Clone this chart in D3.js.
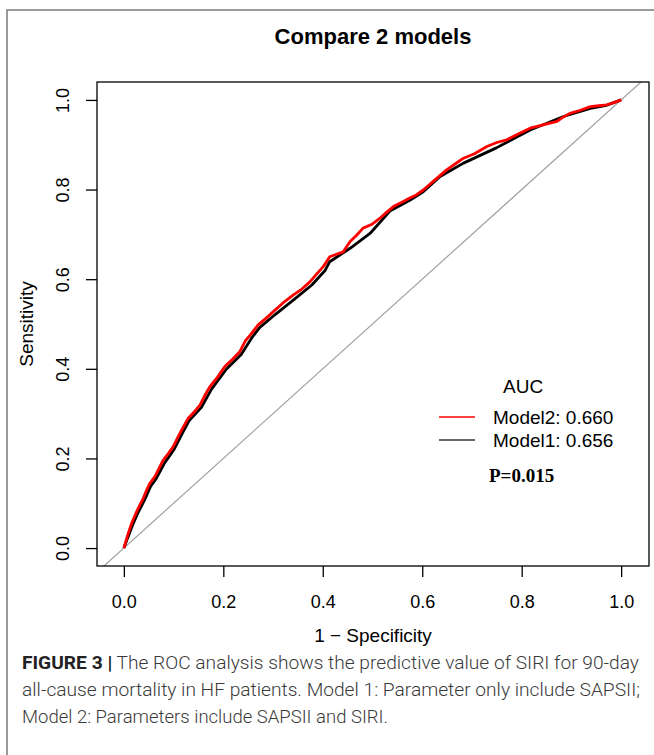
<!DOCTYPE html>
<html>
<head>
<meta charset="utf-8">
<script src="https://cdn.jsdelivr.net/npm/d3@7"></script>
<style>
  html, body { margin: 0; padding: 0; background: #fff; }
  svg { display: block; }
</style>
</head>
<body>
<svg id="chart" width="654" height="755"></svg>
<script>
// ---- data ----
const titleText = "Compare 2 models";
const xLabel = "1 \u2212 Specificity";
const yLabel = "Sensitivity";
const xTicks = [0, 0.2, 0.4, 0.6, 0.8, 1.0];
const yTicks = [0, 0.2, 0.4, 0.6, 0.8, 1.0];
const xLimits = [-0.054, 1.056];
const yLimits = [-0.04, 1.04];
const seriesNames = ["Model2: 0.660", "Model1: 0.656"];
const seriesColors = ["#ff0000", "#000000"];
const pValueText = "P=0.015";
const legendTitle = "AUC";

// Model 2 ROC (1-specificity, sensitivity)
const model2FPR = [0, 0.008, 0.0155, 0.0255, 0.033, 0.039, 0.046, 0.052, 0.062, 0.07, 0.079, 0.09, 0.099, 0.108, 0.116, 0.129, 0.14, 0.153, 0.163, 0.173, 0.188, 0.203, 0.218, 0.233, 0.244, 0.254, 0.270, 0.285, 0.300, 0.32, 0.341, 0.358, 0.374, 0.388, 0.401, 0.414, 0.441, 0.455, 0.468, 0.481, 0.498, 0.515, 0.528, 0.542, 0.558, 0.575, 0.588, 0.602, 0.625, 0.649, 0.666, 0.683, 0.705, 0.730, 0.750, 0.770, 0.795, 0.817, 0.845, 0.871, 0.884, 0.897, 0.918, 0.938, 0.955, 0.971, 0.985, 1.0];
const model2TPR = [0, 0.03, 0.055, 0.081, 0.098, 0.111, 0.13, 0.144, 0.159, 0.176, 0.196, 0.212, 0.226, 0.246, 0.263, 0.289, 0.302, 0.319, 0.341, 0.360, 0.381, 0.405, 0.421, 0.438, 0.462, 0.475, 0.498, 0.512, 0.527, 0.547, 0.565, 0.578, 0.594, 0.612, 0.628, 0.650, 0.661, 0.684, 0.698, 0.714, 0.722, 0.736, 0.749, 0.762, 0.771, 0.781, 0.788, 0.799, 0.821, 0.844, 0.857, 0.870, 0.880, 0.896, 0.905, 0.911, 0.925, 0.937, 0.945, 0.952, 0.962, 0.970, 0.977, 0.985, 0.987, 0.989, 0.994, 1.0];

// Model 1 ROC (1-specificity, sensitivity)
const model1FPR = [0, 0.017, 0.028, 0.041, 0.054, 0.065, 0.082, 0.101, 0.118, 0.131, 0.156, 0.176, 0.206, 0.236, 0.257, 0.273, 0.303, 0.345, 0.378, 0.405, 0.414, 0.455, 0.495, 0.535, 0.575, 0.602, 0.636, 0.683, 0.749, 0.817, 0.884, 0.938, 0.971, 1.0];
const model1TPR = [0, 0.05, 0.078, 0.106, 0.138, 0.155, 0.19, 0.22, 0.257, 0.284, 0.314, 0.354, 0.399, 0.432, 0.469, 0.492, 0.52, 0.557, 0.587, 0.62, 0.639, 0.669, 0.702, 0.752, 0.776, 0.795, 0.829, 0.859, 0.893, 0.933, 0.963, 0.981, 0.988, 1.0];

const captionBold = "FIGURE 3 |";
const captionLines = [
  " The ROC analysis shows the predictive value of SIRI for 90-day",
  "all-cause mortality in HF patients. Model 1: Parameter only include SAPSII;",
  "Model 2: Parameters include SAPSII and SIRI."
];

// ---- layout ----
const svg = d3.select("#chart");
const box = { left: 97, right: 649, top: 82, bottom: 566 };
const x = d3.scaleLinear().domain(xLimits).range([box.left, box.right]);
const y = d3.scaleLinear().domain(yLimits).range([box.bottom, box.top]);
const sans = "'Liberation Sans', Arial, Helvetica, sans-serif";

// outer figure frame
svg.append("path")
  .attr("d", `M7,755 L7,10 L654,10`)
  .attr("fill", "none").attr("stroke", "#7a7a7a").attr("stroke-width", 1.5);

// title
svg.append("text")
  .attr("x", (box.left + box.right) / 2).attr("y", 44)
  .attr("text-anchor", "middle")
  .attr("font-family", sans).attr("font-weight", "bold").attr("font-size", 22)
  .text(titleText);

// clip
svg.append("clipPath").attr("id", "plotclip")
  .append("rect").attr("x", box.left).attr("y", box.top)
  .attr("width", box.right - box.left).attr("height", box.bottom - box.top);

const plot = svg.append("g").attr("clip-path", "url(#plotclip)");

// diagonal reference
plot.append("line")
  .attr("x1", x(-0.1)).attr("y1", y(-0.1))
  .attr("x2", x(1.1)).attr("y2", y(1.1))
  .attr("stroke", "#a0a0a0").attr("stroke-width", 1.2);

const line = d3.line().x(d => x(d[0])).y(d => y(d[1]));
const m1 = model1FPR.map((v, i) => [v, model1TPR[i]]);
const m2 = model2FPR.map((v, i) => [v, model2TPR[i]]);

plot.append("path").datum(m1).attr("d", line)
  .attr("fill", "none").attr("stroke", seriesColors[1]).attr("stroke-width", 2.8)
  .attr("stroke-linejoin", "round");
plot.append("path").datum(m2).attr("d", line)
  .attr("fill", "none").attr("stroke", seriesColors[0]).attr("stroke-width", 2.8)
  .attr("stroke-linejoin", "round");

// box
svg.append("rect")
  .attr("x", box.left).attr("y", box.top)
  .attr("width", box.right - box.left).attr("height", box.bottom - box.top)
  .attr("fill", "none").attr("stroke", "#000").attr("stroke-width", 1.3);

// axes
const xAxis = d3.axisBottom(x).tickValues(xTicks).tickFormat(d3.format(".1f"))
  .tickSize(11).tickPadding(18);
const gx = svg.append("g").attr("transform", `translate(0,${box.bottom})`).call(xAxis);
gx.select(".domain").remove();
gx.selectAll("line").attr("stroke-width", 1.3);
gx.selectAll("text").attr("font-family", sans).attr("font-size", 18).attr("fill", "#000");

const yAxis = d3.axisLeft(y).tickValues(yTicks).tickFormat(d3.format(".1f"))
  .tickSize(11).tickPadding(0);
const gy = svg.append("g").attr("transform", `translate(${box.left},0)`).call(yAxis);
gy.select(".domain").remove();
gy.selectAll("line").attr("stroke-width", 1.3);
gy.selectAll("text")
  .attr("font-family", sans).attr("font-size", 18).attr("fill", "#000")
  .attr("x", null).attr("dy", null)
  .attr("text-anchor", "middle")
  .attr("transform", "translate(-34,0) rotate(-90)")
  .attr("y", 0).attr("dy", "0.35em");

// axis labels
svg.append("text")
  .attr("x", (box.left + box.right) / 2).attr("y", 642)
  .attr("text-anchor", "middle")
  .attr("font-family", sans).attr("font-size", 19)
  .text(xLabel);
svg.append("text")
  .attr("transform", `translate(33,${(box.top + box.bottom) / 2}) rotate(-90)`)
  .attr("text-anchor", "middle")
  .attr("font-family", sans).attr("font-size", 19)
  .text(yLabel);

// legend
svg.append("text").attr("x", 503).attr("y", 393)
  .attr("font-family", sans).attr("font-size", 19).text(legendTitle);
const legY = [417, 440];
seriesNames.forEach((name, i) => {
  svg.append("line")
    .attr("x1", 439).attr("x2", 475).attr("y1", legY[i]).attr("y2", legY[i])
    .attr("stroke", i === 0 ? seriesColors[0] : "#333").attr("stroke-width", 1.4);
  svg.append("text").attr("x", 493).attr("y", legY[i]).attr("dy", "0.36em")
    .attr("font-family", sans).attr("font-size", 19).text(name);
});
svg.append("text").attr("x", 489).attr("y", 482)
  .attr("font-family", "'Liberation Serif', 'Times New Roman', serif")
  .attr("font-weight", "bold").attr("font-size", 19)
  .text(pValueText);

// caption
const capFont = "Roboto, 'Liberation Sans', sans-serif";
const capY = [669, 696, 723];
const capLen = [617, 618, 366];
captionLines.forEach((ln, i) => {
  const t = svg.append("text").attr("x", 22).attr("y", capY[i])
    .attr("font-family", capFont).attr("font-size", 18).attr("font-weight", 300)
    .attr("fill", "#3a3a3a")
    .attr("textLength", capLen[i]).attr("lengthAdjust", "spacingAndGlyphs");
  if (i === 0) {
    t.append("tspan").attr("font-weight", "bold").attr("fill", "#222").text(captionBold);
  }
  t.append("tspan").text(ln);
});
</script>
</body>
</html>
